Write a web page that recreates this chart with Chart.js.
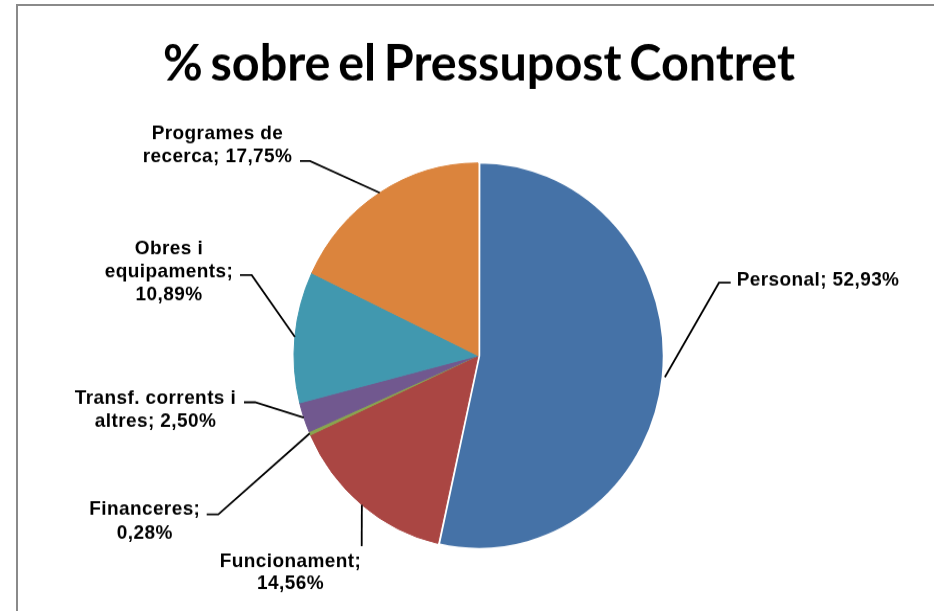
<!DOCTYPE html>
<html><head><meta charset="utf-8">
<script src="https://cdn.jsdelivr.net/npm/chart.js@4"></script>
<style>
html,body{margin:0;padding:0;background:#fff;overflow:hidden;width:934px;height:611px}
#wrap{position:absolute;left:0;top:0;width:934px;height:584px;transform:scaleY(1.04623);transform-origin:0 0}
#frame{position:absolute;left:16px;top:4px;width:1000px;height:700px;border-left:2px solid #8a8a8a;border-top:2px solid #8a8a8a}
</style></head><body>
<div id="frame"></div>
<div id="wrap"><canvas id="c" width="934" height="584"></canvas></div>
<script>
// ---- data ----
const titleText = '% sobre el Pressupost Contret';
const categories = ['Personal', 'Funcionament', 'Financeres', 'Transf. corrents i altres', 'Obres i equipaments', 'Programes de recerca'];
const percentages = [52.93, 14.56, 0.28, 2.50, 10.89, 17.75];
const labelLines = [
  ['Personal; 52,93%'],
  ['Funcionament;', '14,56%'],
  ['Financeres;', '0,28%'],
  ['Transf. corrents i', 'altres; 2,50%'],
  ['Obres i', 'equipaments;', '10,89%'],
  ['Programes de', 'recerca; 17,75%']
];
const colors = ['#4572A7', '#AA4643', '#89A54E', '#71588F', '#4198AF', '#DB843D'];

// ---- label layout (canvas coordinates) ----
const labelLayout = [
  {x: 736.7, y: [266.0], align: 'left', leader: [[730.7, 270.2], [719, 270.2]]},
  {x: 290.5, y: [535.3, 556.5], align: 'center', leader: [[361.7, 521.9]]},
  {x: 144.8, y: [485.6, 508.2], align: 'center', leader: [[206.7, 491.6], [218.3, 491.6]]},
  {x: 155.5, y: [379.2, 401.4], align: 'center', leader: [[244, 384.5], [255, 384.5]]},
  {x: 169.0, y: [235.8, 258.1, 279.8], align: 'center', leader: [[240, 262.9], [251.7, 262.9]]},
  {x: 217.5, y: [125.9, 148.2], align: 'center', leader: [[300, 153.9], [310, 153.9]]}
];

const labelPlugin = {
  id: 'labelPlugin',
  afterDraw(chart) {
    const ctx = chart.ctx;
    // title
    ctx.save();
    ctx.font = 'bold 47px Lato, "Open Sans", sans-serif';
    ctx.fillStyle = '#000';
    ctx.textAlign = 'center';
    ctx.textBaseline = 'alphabetic';
    try { ctx.wordSpacing = '-4px'; } catch (e) {}
    const w = ctx.measureText(titleText).width;
    ctx.translate(479, 76.5);
    ctx.scale(632 / w, 1);
    ctx.fillText(titleText, 0, 0);
    ctx.restore();

    const meta = chart.getDatasetMeta(0);
    meta.data.forEach((arc, i) => {
      const p = arc.getProps(['x', 'y', 'startAngle', 'endAngle', 'outerRadius'], true);
      const mid = (p.startAngle + p.endAngle) / 2;
      const off = arc.options.offset || 0;
      const ex = p.x + Math.cos(mid) * (p.outerRadius + off);
      const ey = p.y + Math.sin(mid) * (p.outerRadius + off);
      const L = labelLayout[i];
      ctx.save();
      ctx.strokeStyle = '#000';
      ctx.lineWidth = 1.8;
      ctx.beginPath();
      ctx.moveTo(L.leader[0][0], L.leader[0][1]);
      for (let k = 1; k < L.leader.length; k++) ctx.lineTo(L.leader[k][0], L.leader[k][1]);
      ctx.lineTo(ex, ey);
      ctx.stroke();
      ctx.font = 'bold 19px "Liberation Sans", Arial, sans-serif';
      try { ctx.letterSpacing = '0.4px'; } catch (e) {}
      ctx.fillStyle = '#000';
      ctx.textAlign = L.align;
      ctx.textBaseline = 'alphabetic';
      labelLines[i].forEach((t, j) => ctx.fillText(t, L.x, L.y[j] + 6.8));
      ctx.restore();
    });
  }
};

new Chart(document.getElementById('c'), {
  type: 'pie',
  data: {
    labels: categories,
    datasets: [{
      data: percentages,
      backgroundColor: colors,
      borderColor: ['#ffffff', colors[1], colors[2], colors[3], colors[4], colors[5]],
      borderWidth: [2.5, 1, 1, 1, 1, 1],
      offset: [4, 0, 0, 0, 0, 0],
      radius: 184
    }]
  },
  options: {
    responsive: false,
    animation: false,
    events: [],
    layout: {padding: {left: 290, right: 268, top: 150, bottom: 54.4}},
    plugins: {legend: {display: false}, tooltip: {enabled: false}, title: {display: false}}
  },
  plugins: [labelPlugin]
});
</script>
</body></html>
